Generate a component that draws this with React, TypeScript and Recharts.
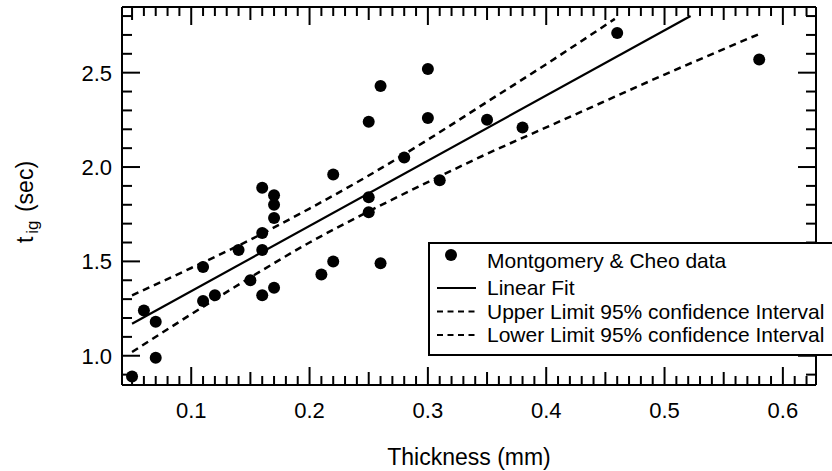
import React from 'react';
import { ComposedChart, Scatter, Line, XAxis, YAxis, Legend, Label, ReferenceLine } from 'recharts';

const FONT = '"Liberation Sans", Arial, Helvetica, sans-serif';

// Montgomery & Cheo data: thickness (mm) vs ignition time (sec)
const thicknessMm = [
  0.05, 0.06, 0.07, 0.07, 0.11, 0.11, 0.12, 0.14, 0.15, 0.16, 0.16,
  0.16, 0.16, 0.17, 0.17, 0.17, 0.17, 0.21, 0.22, 0.22, 0.25, 0.25,
  0.25, 0.26, 0.26, 0.28, 0.30, 0.30, 0.31, 0.35, 0.38, 0.46, 0.58,
];
const ignitionSec = [
  0.89, 1.24, 1.18, 0.99, 1.47, 1.29, 1.32, 1.56, 1.40, 1.89, 1.65,
  1.56, 1.32, 1.85, 1.80, 1.73, 1.36, 1.43, 1.96, 1.50, 2.24, 1.84,
  1.76, 2.43, 1.49, 2.05, 2.52, 2.26, 1.93, 2.25, 2.21, 2.71, 2.57,
];

// Linear fit
const fitX = [0.05, 0.522];
const fitY = [1.17, 2.80];

// Upper limit 95% confidence interval
const upperX = [0.05, 0.10, 0.15, 0.20, 0.25, 0.30, 0.35, 0.40, 0.458];
const upperY = [1.32, 1.465, 1.615, 1.78, 1.955, 2.145, 2.345, 2.545, 2.785];

// Lower limit 95% confidence interval
const lowerX = [0.05, 0.10, 0.15, 0.20, 0.25, 0.30, 0.35, 0.40, 0.45, 0.50, 0.55, 0.58];
const lowerY = [1.02, 1.22, 1.415, 1.60, 1.765, 1.92, 2.07, 2.21, 2.35, 2.49, 2.625, 2.705];

const seriesNames = [
  'Montgomery & Cheo data',
  'Linear Fit',
  'Upper Limit 95% confidence Interval',
  'Lower Limit 95% confidence Interval',
];

// Tick labels
const xLabelValues = [0.1, 0.2, 0.3, 0.4, 0.5, 0.6];
const xTickLabels = ['0.1', '0.2', '0.3', '0.4', '0.5', '0.6'];
const yLabelValues = [1.0, 1.5, 2.0, 2.5];
const yTickLabels = ['1.0', '1.5', '2.0', '2.5'];

// minor tick positions (every 0.01 on x, every 0.1 on y)
const xTicks: number[] = [];
for (let k = 5; k <= 62; k++) xTicks.push(k / 100);
const yTicks: number[] = [];
for (let k = 9; k <= 28; k++) yTicks.push(k / 10);

const xDomain: [number, number] = [0.0415, 0.628];
const yDomain: [number, number] = [0.845, 2.848];

const toPts = (xs: number[], ys: number[]) => xs.map((x, i) => ({ x, y: ys[i] }));
const scatterData = toPts(thicknessMm, ignitionSec);
const fitData = toPts(fitX, fitY);
const upperData = toPts(upperX, upperY);
const lowerData = toPts(lowerX, lowerY);

const near = (a: number, b: number) => Math.abs(a - b) < 1e-6;

// plot size in px (used to express tick-mark lengths in data units)
const PLOT_W = 694;
const PLOT_H = 378;
const pxToX = (px: number) => (px * (xDomain[1] - xDomain[0])) / PLOT_W;
const pxToY = (px: number) => (px * (yDomain[1] - yDomain[0])) / PLOT_H;

const xTickLen = (v: number) => {
  if (xLabelValues.some((t) => near(t, v))) return 18;
  return Math.round(v * 100) % 5 === 0 ? 13 : 9;
};
const yTickLen = (v: number) => (yLabelValues.some((t) => near(t, v)) ? 18 : 10);

const BottomTick = (props: any) => {
  const { x, y, payload } = props;
  const idx = xLabelValues.findIndex((t) => near(t, payload.value));
  if (idx < 0) return <g />;
  return (
    <text x={x} y={y + 33} textAnchor="middle" fontSize={22} fontFamily={FONT} fill="#000">
      {xTickLabels[idx]}
    </text>
  );
};

const LeftTick = (props: any) => {
  const { x, y, payload } = props;
  const idx = yLabelValues.findIndex((t) => near(t, payload.value));
  if (idx < 0) return <g />;
  return (
    <text x={x - 10} y={y} dy={8} textAnchor="end" fontSize={22} fontFamily={FONT} fill="#000">
      {yTickLabels[idx]}
    </text>
  );
};

const Dot = (props: any) => {
  const { cx, cy } = props;
  if (cx == null || cy == null) return null;
  return <circle cx={cx} cy={cy} r={6} fill="#000" />;
};

const YTitle = (props: any) => {
  const vb = props.viewBox || { x: 0, y: 7, width: 122, height: 378 };
  const cx = vb.x + 33;
  const cy = vb.y + vb.height / 2 + 6;
  return (
    <text transform={`translate(${cx}, ${cy}) rotate(-90)`} textAnchor="middle" fontFamily={FONT} fontSize={23} fill="#000">
      t
      <tspan fontSize={17} dx={3} dy={5}>ig</tspan>
      <tspan dx={2} dy={-5}> (sec)</tspan>
    </text>
  );
};

const LegendBox = () => {
  const rows = [19, 46, 69.5, 93];
  const textStyle = { fontFamily: FONT, fontSize: 21, fill: '#000' };
  return (
    <svg width={440} height={116} style={{ display: 'block' }}>
      <rect x={1} y={1} width={430} height={112} fill="#fff" stroke="#000" strokeWidth={2} />
      <circle cx={23} cy={13} r={6} fill="#000" />
      <line x1={9} x2={48} y1={rows[1]} y2={rows[1]} stroke="#000" strokeWidth={2} />
      <line x1={9} x2={48} y1={rows[2]} y2={rows[2]} stroke="#000" strokeWidth={2} strokeDasharray="6 4.5" />
      <line x1={9} x2={48} y1={rows[3]} y2={rows[3]} stroke="#000" strokeWidth={2} strokeDasharray="6 4.5" />
      {seriesNames.map((n, i) => (
        <text key={i} x={59} y={rows[i]} dy="0.35em" style={textStyle}>{n}</text>
      ))}
    </svg>
  );
};

const axisLineStyle = { stroke: '#000', strokeWidth: 2 };

// frame tick marks as short reference segments placed through the chart scales
const tickSegments: { key: string; seg: { x: number; y: number }[] }[] = [];
xTicks.forEach((v) => {
  const dy = pxToY(xTickLen(v));
  tickSegments.push({ key: `b${v}`, seg: [{ x: v, y: yDomain[0] }, { x: v, y: yDomain[0] + dy }] });
  tickSegments.push({ key: `t${v}`, seg: [{ x: v, y: yDomain[1] }, { x: v, y: yDomain[1] - dy }] });
});
yTicks.forEach((v) => {
  const dx = pxToX(yTickLen(v));
  tickSegments.push({ key: `l${v}`, seg: [{ x: xDomain[0], y: v }, { x: xDomain[0] + dx, y: v }] });
  tickSegments.push({ key: `r${v}`, seg: [{ x: xDomain[1], y: v }, { x: xDomain[1] - dx, y: v }] });
});

export default function App() {
  return (
    <div style={{ position: 'absolute', left: 0, top: 0, width: 832, height: 471, overflow: 'hidden', background: '#fff' }}>
      <ComposedChart width={832} height={471} margin={{ top: 6, right: 15, bottom: 0, left: 0 }}>
        <XAxis xAxisId={0} type="number" dataKey="x" domain={xDomain} allowDataOverflow ticks={xTicks} interval={0}
          tickSize={0} tickMargin={0} tickLine={false} tick={<BottomTick />}
          axisLine={axisLineStyle} height={86}
          label={{ value: 'Thickness (mm)', position: 'insideBottom', offset: 6, fontSize: 23, fontFamily: FONT, fill: '#000' }} />
        <XAxis xAxisId="top" orientation="top" type="number" dataKey="x" domain={xDomain} allowDataOverflow
          tickLine={false} tick={false} axisLine={axisLineStyle} height={1} />
        <YAxis yAxisId={0} type="number" dataKey="y" domain={yDomain} allowDataOverflow ticks={yTicks} interval={0}
          tickSize={0} tickMargin={0} tickLine={false} tick={<LeftTick />} axisLine={axisLineStyle} width={122}>
          <Label content={<YTitle />} />
        </YAxis>
        <YAxis yAxisId="right" orientation="right" type="number" dataKey="y" domain={yDomain} allowDataOverflow
          tickLine={false} tick={false} axisLine={axisLineStyle} width={1} />
        <Line xAxisId="top" yAxisId="right" data={fitData} dataKey="y" stroke="none" dot={false} activeDot={false} legendType="none" isAnimationActive={false} />
        {tickSegments.map((t) => (
          <ReferenceLine key={t.key} segment={t.seg} stroke="#000" strokeWidth={2} ifOverflow="visible" />
        ))}
        <Line name={seriesNames[2]} data={upperData} dataKey="y" type="monotone" stroke="#000" strokeWidth={2.5} strokeDasharray="7 5" dot={false} activeDot={false} isAnimationActive={false} />
        <Line name={seriesNames[3]} data={lowerData} dataKey="y" type="monotone" stroke="#000" strokeWidth={2.5} strokeDasharray="7 5" dot={false} activeDot={false} isAnimationActive={false} />
        <Line name={seriesNames[1]} data={fitData} dataKey="y" type="linear" stroke="#000" strokeWidth={2.2} dot={false} activeDot={false} isAnimationActive={false} />
        <Scatter name={seriesNames[0]} data={scatterData} dataKey="y" fill="#000" shape={<Dot />} isAnimationActive={false} />
        <Legend layout="vertical" align="center" verticalAlign="middle" content={<LegendBox />}
          wrapperStyle={{ position: 'absolute', left: 428, top: 242, width: 440, height: 116 }} />
      </ComposedChart>
    </div>
  );
}
